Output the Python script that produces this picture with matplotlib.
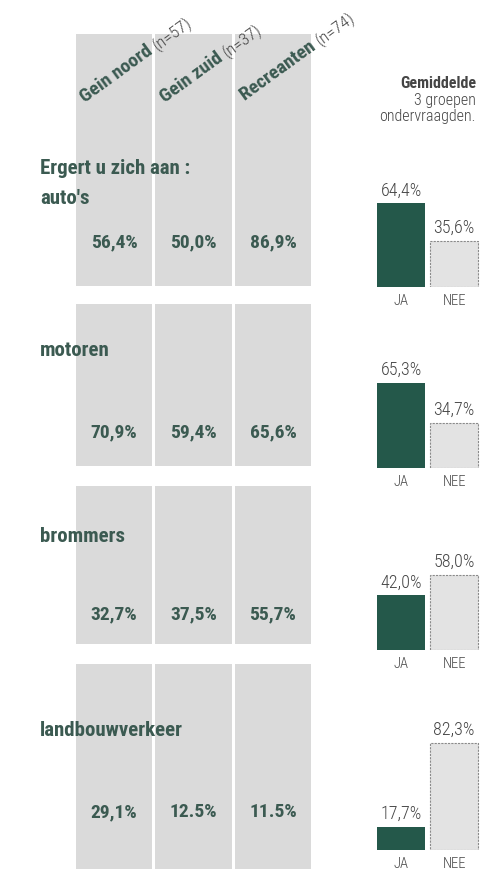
import math
import matplotlib
matplotlib.use("Agg")
import matplotlib.pyplot as plt
from matplotlib.patches import Rectangle
from matplotlib import font_manager as fm

# ---------------- data ----------------
groups = ["Gein noord", "Gein zuid", "Recreanten"]
group_n = ["(n=57)", "(n=37)", "(n=74)"]
categories = ["auto's", "motoren", "brommers", "landbouwverkeer"]
noord = [56.4, 70.9, 32.7, 29.1]
zuid = [50.0, 59.4, 37.5, 12.5]
recreanten = [86.9, 65.6, 55.7, 11.5]
# cells printed with a decimal point instead of a comma in the original
point_cells = [(3, 1), (3, 2)]
avg_ja = [64.4, 65.3, 42.0, 17.7]
avg_nee = [35.6, 34.7, 58.0, 82.3]
bar_labels = ["JA", "NEE"]

# ---------------- style ----------------
W, H = 480, 877
avail = {f.name for f in fm.fontManager.ttflist}
cond = None
for cand in ["Roboto Condensed", "Liberation Sans Narrow", "Open Sans Condensed",
             "Noto Sans Condensed", "DejaVu Sans Condensed"]:
    if cand in avail:
        cond = cand
        break
FONT = ([cond] if cond else []) + ["Liberation Sans", "DejaVu Sans"]
plt.rcParams["font.family"] = FONT
CONDENSED = cond is not None
GREEN = "#24584a"
TXT = "#3b5a51"
GRAY = "#dadada"
DARK = "#454545"

fig = plt.figure(figsize=(W / 100, H / 100), dpi=100)
fig.patch.set_facecolor("white")

bg = fig.add_axes([0, 0, 1, 1])
bg.set_xlim(0, W)
bg.set_ylim(H, 0)
bg.axis("off")

col_bounds = [(76, 152), (155, 232), (235, 311)]
row_bounds = [(34, 286), (304, 466), (486, 644), (664, 869)]
value_y = [242, 432, 614, 812]

table = [noord, zuid, recreanten]


def fmt(v, sep=","):
    return f"{v:.1f}".replace(".", sep) + "%"


val_size = 14 if CONDENSED else 12.5
for r, (y0, y1) in enumerate(row_bounds):
    for c, (x0, x1) in enumerate(col_bounds):
        bg.add_patch(Rectangle((x0, y0), x1 - x0, y1 - y0, facecolor=GRAY,
                               edgecolor="none", zorder=1))
        sep = "." if (r, c) in point_cells else ","
        bg.text((x0 + x1) / 2, value_y[r], fmt(table[c][r], sep), ha="center",
                va="center", fontsize=val_size, fontweight="bold", color=TXT,
                zorder=3)

# rotated column headers
fig.canvas.draw()
renderer = fig.canvas.get_renderer()
head_pos = [(85, 103), (165, 103), (245, 101)]
ang = 36
hsize = 14 if CONDENSED else 12
for (hx, hy), g, n in zip(head_pos, groups, group_n):
    t = bg.text(hx, hy, g + " ", fontsize=hsize, fontweight="black", color=TXT,
                rotation=0, ha="left", va="baseline", zorder=3)
    w = t.get_window_extent(renderer).width
    t.set_rotation(ang)
    t.set_rotation_mode("anchor")
    dx = w * math.cos(math.radians(ang))
    dy = w * math.sin(math.radians(ang))
    bg.text(hx + dx, hy - dy, n, fontsize=hsize - 1.5, color=DARK,
            fontweight="light", rotation=ang, rotation_mode="anchor",
            ha="left", va="baseline", zorder=3)

# row titles
label_x = 40 if CONDENSED else 34
lsize = 15 if CONDENSED else 13
bg.text(label_x, 168, "Ergert u zich aan :", fontsize=lsize, fontweight="black",
        color=TXT, ha="left", va="center", zorder=3)
cat_y = [199, 351, 537, 731]
for cy, cat in zip(cat_y, categories):
    bg.text(label_x, cy, cat, fontsize=lsize, fontweight="black", color=TXT,
            ha="left", va="center", zorder=3)

# right header
rsize = 11.5 if CONDENSED else 10.5
bg.text(476, 83, "Gemiddelde", fontsize=rsize, fontweight="bold", color=DARK,
        ha="right", va="center")
bg.text(476, 100, "3 groepen", fontsize=rsize, fontweight="light", color=DARK,
        ha="right", va="center")
bg.text(476, 117, "ondervraagden.", fontsize=rsize, fontweight="light",
        color=DARK, ha="right", va="center")

# average bars
baselines = [287, 468, 650, 850]
px_per_pct = 1.3
ax_h = 100 * px_per_pct
x_left, x_right = 374.5, 480.5
for i, base in enumerate(baselines):
    ax = fig.add_axes([x_left / W, 1 - base / H, (x_right - x_left) / W, ax_h / H])
    ax.set_xlim(-0.5, 1.5)
    ax.set_ylim(0, 100)
    ax.patch.set_alpha(0)
    for s in ax.spines.values():
        s.set_visible(False)
    vals = [avg_ja[i], avg_nee[i]]
    ax.bar([0], [vals[0]], width=0.89, color=GREEN, edgecolor="none")
    ax.bar([1], [vals[1]], width=0.89, color="#e3e3e3", edgecolor="#8a8a8a",
           linewidth=0.8, linestyle=(0, (2, 1)))
    for j, v in enumerate(vals):
        ax.text(j, v + 3, fmt(v), ha="center", va="bottom",
                fontsize=13 if CONDENSED else 11, fontweight="light",
                color=DARK)
    ax.set_xticks([0, 1])
    ax.set_xticklabels(bar_labels, fontsize=10.5 if CONDENSED else 9,
                       fontweight="light", color=DARK)
    ax.tick_params(axis="x", length=0, pad=5)
    ax.set_yticks([])

fig.savefig("out.png", dpi=100, facecolor="white")
